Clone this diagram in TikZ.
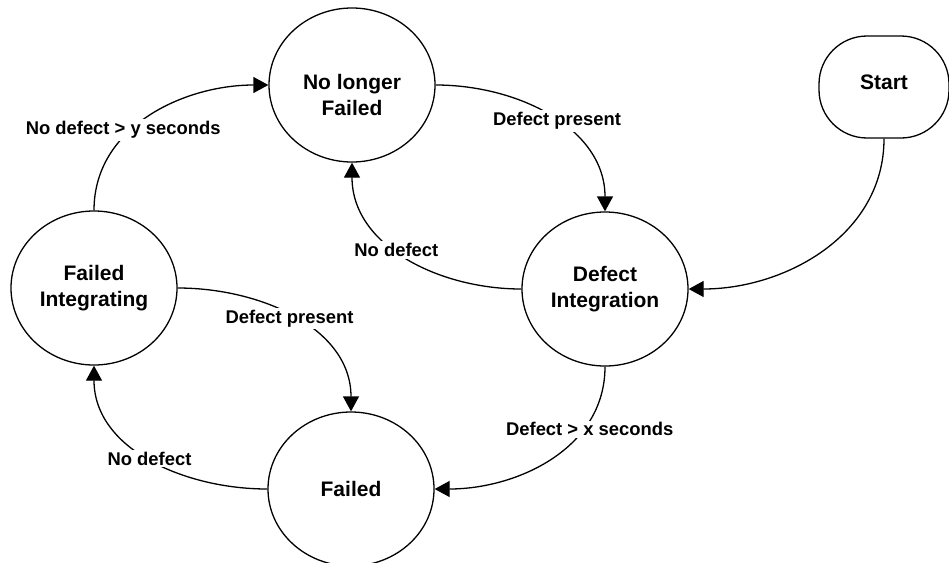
\documentclass[tikz,border=0pt]{standalone}
\usepackage{fontspec}
\setmainfont{Liberation Sans}
\usepackage{tikz}
\usetikzlibrary{shapes.geometric,arrows.meta}

\begin{document}
\begin{tikzpicture}[x=1pt,y=1pt,line width=1.3pt,
		statetext/.style={align=center,font=\fontsize{21}{26}\selectfont\bfseries},
		state/.style={draw,ellipse,minimum width=166pt,minimum height=154pt,inner sep=0pt,statetext},
		startbox/.style={draw,rectangle,rounded corners=48pt,minimum width=130pt,minimum height=102pt,statetext},
		trans/.style={-{Triangle[length=15pt,width=16pt]}},
		cond/.style={fill=white,inner sep=2pt,font=\fontsize{18.4}{22}\selectfont\bfseries}]
				\useasboundingbox (0,0) rectangle (949,-562);
				\node[state,label={[statetext,yshift=-10pt]center:No longer\\Failed}] (nolonger) at (352,-85) {};
				\node[startbox,text depth=10pt] (start) at (884,-87) {Start};
				\node[state] (defint) at (605,-289) {Defect\\Integration};
				\node[state] (failint) at (94,-288) {Failed\\Integrating};
				\node[state] (failed) at (351,-489) {Failed};
				
				\draw[trans] (nolonger.east) to[out=0,in=90] node[cond,pos=0.53] {Defect present} (defint.north);
				\draw[trans] (defint.west) to[out=180,in=-90] node[cond,pos=0.55] {No defect} (nolonger.south);
				\draw[trans] (start.south) to[out=-90,in=0] (defint.east);
				\draw[trans] (defint.south) to[out=-90,in=0] node[cond,pos=0.3,xshift=6pt] {Defect > x seconds} (failed.east);
				\draw[trans] (failint.east) to[out=0,in=90] node[cond,xshift=-6pt] {Defect present} (failed.north);
				\draw[trans] (failed.west) to[out=180,in=-90] node[cond] {No defect} (failint.south);
				\draw[trans] (failint.north) to[out=90,in=180] node[cond,pos=0.4,xshift=-8pt] {No defect > y seconds} (nolonger.west);
			\end{tikzpicture}
\end{document}
